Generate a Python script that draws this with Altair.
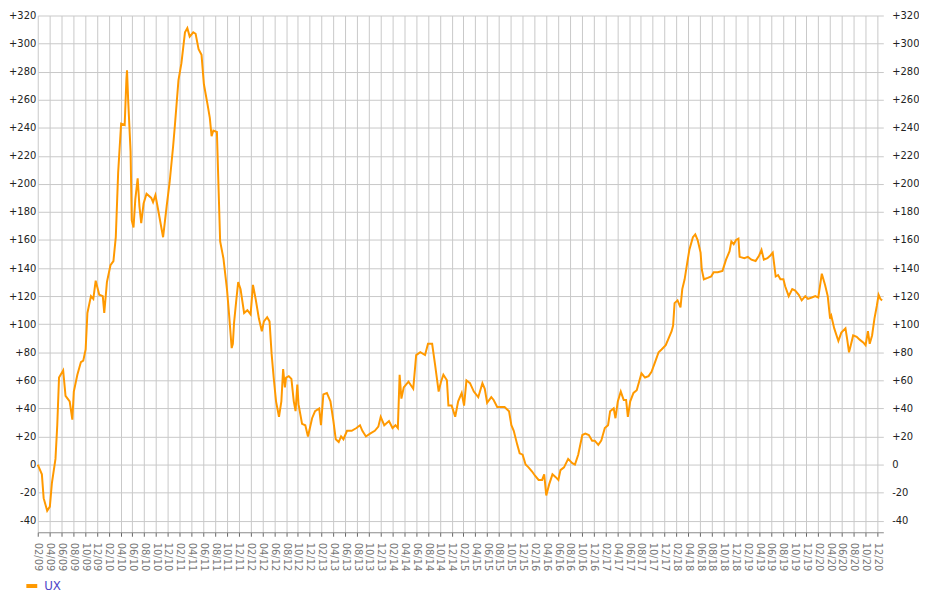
import altair as alt
import pandas as pd

# months since Feb 2009
months = [0.0, 0.7, 1.0, 1.6, 2.05, 2.4, 3.0, 3.3, 3.6, 4.3, 4.7, 5.4, 5.85, 6.1, 6.7, 7.3, 7.7, 8.1, 8.4, 9.0,
          9.4, 9.8, 10.4, 11.0, 11.25, 11.7, 12.3, 12.8, 13.2, 13.6, 14.1, 14.7, 15.0, 15.1, 15.3, 15.7, 15.9, 16.2,
          16.5, 16.9, 17.2, 17.5, 17.9, 18.4, 19.2, 19.5, 19.9, 20.3, 21.2, 21.8, 22.3, 22.9, 23.2, 23.8, 24.3,
          24.9, 25.3, 25.7, 26.3, 26.7, 27.2, 27.7, 28.1, 28.7, 29.1, 29.4, 29.7, 30.3, 30.6, 30.85, 31.4, 32.0,
          32.3, 32.8, 33.0, 33.2, 33.6, 33.9, 34.3, 34.9, 35.45, 36.0, 36.4, 36.85, 37.4, 37.9, 38.25, 38.8, 39.2,
          39.55, 39.9, 40.3, 40.8, 41.2, 41.5, 41.8, 42.0, 42.45, 42.9, 43.3, 43.6, 43.9, 44.1, 44.7, 45.25, 45.7,
          46.4, 46.9, 47.6, 47.9, 48.3, 48.9, 49.5, 50.0, 50.4, 50.9, 51.3, 51.7, 52.3, 53.1, 53.9, 54.5, 54.9,
          55.5, 56.2, 57.0, 57.6, 58.0, 58.6, 59.4, 60.0, 60.5, 60.9, 61.2, 61.5, 61.9, 62.7, 63.5, 64.0, 64.7,
          65.5, 66.0, 66.7, 67.2, 67.8, 68.2, 68.6, 69.2, 69.45, 70.0, 70.6, 71.1, 71.7, 72.1, 72.5, 73.1, 73.75,
          74.5, 75.2, 75.6, 76.0, 76.7, 77.1, 77.7, 78.95, 79.7, 80.1, 80.5, 81.1, 81.5, 82.0, 82.5, 83.0, 83.6,
          84.1, 84.7, 85.3, 85.65, 86.0, 86.5, 87.05, 87.6, 88.05, 88.4, 89.0, 89.7, 90.4, 90.85, 91.4, 92.1,
          92.6, 93.2, 93.75, 94.2, 94.8, 95.3, 95.9, 96.45, 96.8, 97.4, 97.7, 98.1, 98.6, 99.1, 99.5, 99.8, 100.2,
          100.75, 101.3, 101.7, 102.1, 102.7, 103.3, 103.8, 104.4, 105.0, 105.5, 106.2, 106.6, 107.2, 107.45,
          107.7, 108.2, 108.7, 109.0, 109.4, 109.85, 110.2, 110.8, 111.2, 111.6, 112.1, 112.3, 112.65, 113.3,
          113.9, 114.3, 115.0, 115.8, 116.4, 117.0, 117.3, 117.7, 118.1, 118.5, 118.7, 119.5, 120.1, 120.7,
          121.4, 122.0, 122.4, 122.8, 123.4, 123.9, 124.3, 124.8, 125.2, 125.6, 126.1, 126.4, 127.0, 127.6,
          128.1, 128.7, 129.2, 129.8, 130.25, 130.9, 131.5, 132.0, 132.6, 133.15, 133.6, 134.0, 134.2, 134.7,
          135.4, 135.9, 136.6, 136.9, 137.2, 137.5, 137.9, 138.5, 139.0, 139.6, 140.0, 140.4, 140.7, 141.1,
          141.5, 141.9, 142.2, 142.5, 142.8]

ux_values = [0, -7, -24, -33, -30, -13, 4, 28, 62, 67, 49, 45, 32, 52, 64, 73, 74, 82, 108, 120,
             118, 131, 121, 120, 108, 130, 142, 145, 162, 208, 243, 242, 275, 281, 259, 223, 174, 169,
             189, 204, 184, 172, 186, 193, 190, 187, 192, 183, 162, 184, 201, 227, 242, 274, 286,
             308, 311, 305, 308, 307, 296, 292, 271, 257, 247, 234, 238, 237, 194, 159, 147, 125,
             110, 83, 86, 101, 118, 130, 125, 108, 110, 107, 128, 118, 104, 95, 102, 105, 102,
             79, 62, 45, 34, 45, 68, 55, 62, 63, 61, 45, 38, 57, 43, 29, 28, 20,
             33, 38, 40, 28, 50, 51, 45, 31, 18, 16, 20, 18, 24, 24, 26, 28, 24,
             20, 22, 24, 27, 34, 28, 31, 26, 28, 26, 64, 47, 55, 59, 54, 78, 80,
             78, 86, 86, 71, 52, 59, 64, 60, 42, 42, 34, 45, 51, 42, 60, 58, 52,
             48, 58, 54, 44, 48, 46, 41, 41, 38, 28, 24, 14, 8, 7, 0, -2, -5,
             -8, -11, -11, -7, -22, -14, -7, -9, -11, -4, -2, 4, 1, 0, 7, 21,
             22, 21, 17, 17, 14, 17, 26, 28, 38, 40, 33, 45, 52, 46, 46, 34, 45,
             51, 53, 59, 65, 62, 63, 66, 73, 80, 82, 85, 89, 95, 99,
             115, 117, 112, 125, 132, 144, 153, 162, 164, 160, 151, 139, 132, 133,
             134, 137, 137, 138, 146, 152, 159, 157, 160, 161, 148, 147, 148, 146,
             145, 149, 153, 146, 147, 149, 151, 134, 135, 132, 132, 127, 120, 125,
             124, 121, 117, 120, 118, 119, 120, 119, 136, 128, 120, 104, 106, 97,
             88, 94, 97, 89, 80, 85, 92, 91, 89, 87, 85, 95, 86, 92,
             104, 113, 121, 118, 117]

series_name = "UX"
x_tick_months = list(range(0, 143, 2))
y_ticks = list(range(-40, 321, 20))

df = pd.DataFrame({"m": months, "v": ux_values, "series": series_name})

FONT = "DejaVu Sans"
x_scale = alt.Scale(domain=[0, 143], nice=False, zero=False)
y_scale = alt.Scale(domain=[-48.3, 320], nice=False, zero=False)
ylab = "datum.value > 0 ? '+' + datum.value : '' + datum.value"
GRID = "#c8c8c8"

x_axis = alt.Axis(values=x_tick_months,
                  labelExpr="timeFormat(datetime(2009, 1 + datum.value, 1), '%m/%y')",
                  labelAngle=90, labelAlign="left", labelBaseline="middle",
                  labelFont=FONT, labelFontSize=10, labelColor="#777777",
                  labelPadding=6, tickSize=4, tickColor="#666666",
                  domainColor="#888888", grid=True, gridColor=GRID,
                  labelOverlap=False, labelFlush=False)
x_enc = alt.X("m:Q", scale=x_scale, title=None, axis=x_axis)

line = alt.Chart(df).mark_line(strokeWidth=2).encode(
    x=x_enc,
    y=alt.Y("v:Q", scale=y_scale, title=None,
            axis=alt.Axis(values=y_ticks, labelExpr=ylab, orient="left",
                          labelFont=FONT, labelFontSize=10, labelColor="#222222",
                          labelPadding=2, ticks=False, domain=False,
                          grid=True, gridColor=GRID, labelFlush=False)),
    color=alt.Color("series:N", scale=alt.Scale(range=["#ff9900"]),
                    legend=alt.Legend(title=None, orient="none", legendX=-13.5, legendY=568,
                                      symbolType="stroke", symbolSize=121, symbolStrokeWidth=4,
                                      labelFont=FONT, labelFontSize=12, labelColor="#5046c8",
                                      labelOffset=5, padding=0)),
)

right = alt.Chart(df).mark_line(strokeWidth=2, opacity=0).encode(
    x=x_enc,
    y=alt.Y("v:Q", scale=y_scale, title=None,
            axis=alt.Axis(values=y_ticks, labelExpr=ylab, orient="right",
                          labelFont=FONT, labelFontSize=10, labelColor="#222222",
                          labelPadding=8.5, ticks=False, domain=False, grid=False,
                          labelFlush=False)),
)

chart = (
    alt.layer(line, right)
    .resolve_axis(y="independent")
    .properties(width=853, height=521.3, padding={"left": 0, "top": 0, "right": 0, "bottom": 0})
    .configure_view(strokeWidth=0)
)

chart.save("out.html", embed_options={"renderer": "svg", "actions": False})
